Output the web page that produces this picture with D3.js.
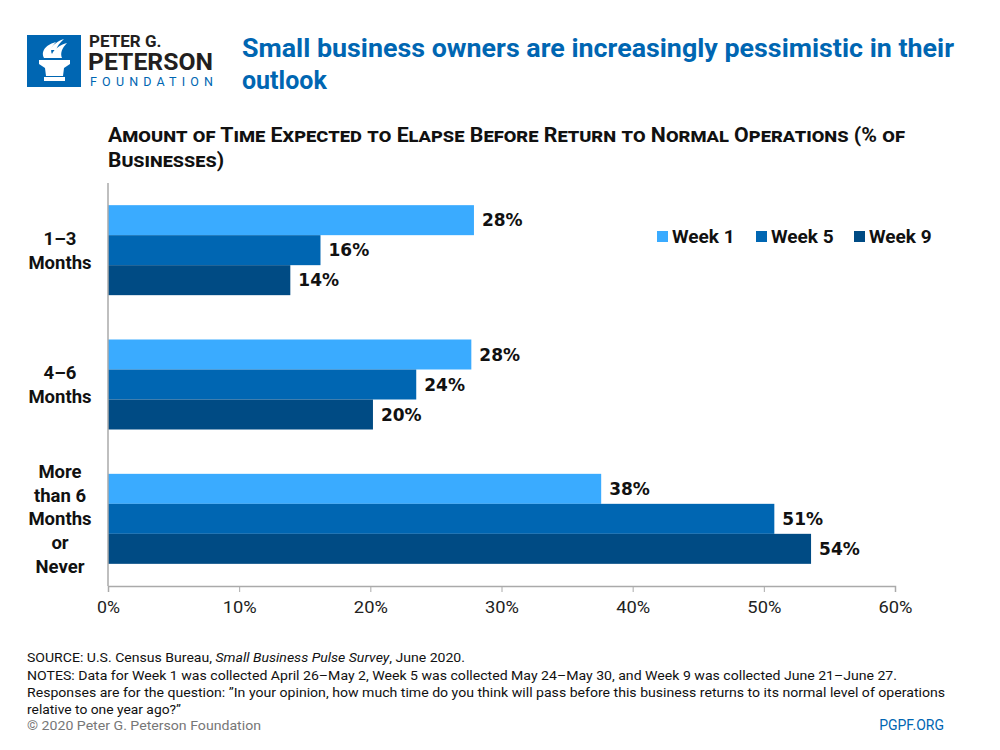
<!DOCTYPE html>
<html>
<head>
<meta charset="utf-8">
<script src="https://cdn.jsdelivr.net/npm/d3@7"></script>
<style>
  html, body { margin: 0; padding: 0; background: #fff; }
  svg { display: block; }
</style>
</head>
<body>
<svg id="chart" width="1000" height="750"></svg>
<script>
// ---- data ----
const categories = ["1–3 Months", "4–6 Months", "More than 6 Months or Never"];
const categoryLines = [["1–3", "Months"], ["4–6", "Months"], ["More", "than 6", "Months", "or", "Never"]];
const seriesNames = ["Week 1", "Week 5", "Week 9"];
const week1 = [27.9, 27.7, 37.6];
const week5 = [16.2, 23.5, 50.8];
const week9 = [13.9, 20.2, 53.6];
const week1Labels = ["28%", "28%", "38%"];
const week5Labels = ["16%", "24%", "51%"];
const week9Labels = ["14%", "20%", "54%"];
const xTicks = [0, 10, 20, 30, 40, 50, 60];
const colors = ["#3aabff", "#0066b2", "#004b84"];

const svg = d3.select("#chart");
const FONT = "Roboto, 'Liberation Sans', sans-serif";
const WIDE = "'DejaVu Sans', Verdana, sans-serif";

// ---- logo ----
const logo = svg.append("g");
logo.append("rect").attr("x", 27).attr("y", 35).attr("width", 54).attr("height", 52).attr("fill", "#0066b2");
logo.append("path").attr("fill", "#fff")
  .attr("d", "M39,60 L70,60 L70,64 L64,68 L63,76 L46,76 L45,68 L39,64 Z");
logo.append("rect").attr("x", 44).attr("y", 77).attr("width", 21).attr("height", 4).attr("fill", "#fff");
logo.append("path").attr("fill", "#fff")
  .attr("d", "M44,58 C40,50 48,44 56,42 C52,46 50,50 52,54 C54,49 60,45 67,43 C62,48 60,53 62,58 Z");
logo.append("path").attr("fill", "#fff")
  .attr("d", "M50,50 C52,45 58,41 64,39 C60,43 57,46 56,50 Z");
logo.append("text").attr("x", 89).attr("y", 46.5).text("PETER G.")
  .attr("font-family", FONT).attr("font-weight", 700).attr("font-size", 17).attr("fill", "#231f20");
logo.append("text").attr("x", 88).attr("y", 70).text("PETERSON")
  .attr("font-family", FONT).attr("font-weight", 700).attr("font-size", 24.5).attr("fill", "#231f20")
  .attr("textLength", 125).attr("lengthAdjust", "spacingAndGlyphs");
logo.append("text").attr("x", 90).attr("y", 86).text("FOUNDATION")
  .attr("font-family", FONT).attr("font-weight", 400).attr("font-size", 12.5).attr("fill", "#0066b2")
  .attr("textLength", 123).attr("lengthAdjust", "spacing");

// ---- title ----
const title = svg.append("text").attr("font-family", FONT).attr("font-weight", 700)
  .attr("font-size", 25).attr("fill", "#0066b2");
title.append("tspan").attr("x", 242).attr("y", 57).text("Small business owners are increasingly pessimistic in their")
  .attr("textLength", 712).attr("lengthAdjust", "spacingAndGlyphs");
title.append("tspan").attr("x", 242).attr("y", 89).text("outlook");

// ---- subtitle (small caps) ----
const sub = svg.append("text").attr("font-family", FONT).attr("font-weight", 700)
  .attr("font-size", 19.5).attr("fill", "#111").style("font-variant", "small-caps");
sub.append("tspan").attr("x", 108).attr("y", 142)
  .text("Amount of Time Expected to Elapse Before Return to Normal Operations (% of")
  .attr("textLength", 797).attr("lengthAdjust", "spacingAndGlyphs");
sub.append("tspan").attr("x", 108).attr("y", 167).text("Businesses)")
  .attr("textLength", 116).attr("lengthAdjust", "spacingAndGlyphs");

// ---- scales ----
const x = d3.scaleLinear().domain([0, 60]).range([108, 895]);
const y0 = d3.scaleBand().domain(categories).range([183, 586]).paddingInner(0.33).paddingOuter(0.165);
const y1 = d3.scaleBand().domain(seriesNames).range([0, y0.bandwidth()]);

const seriesValues = [week1, week5, week9];
const seriesLabels = [week1Labels, week5Labels, week9Labels];

// ---- bars ----
const rows = [];
categories.forEach((c, ci) => {
  seriesNames.forEach((s, si) => {
    rows.push({ cat: c, series: s, si, value: seriesValues[si][ci], label: seriesLabels[si][ci] });
  });
});

const barG = svg.append("g");
barG.selectAll("rect").data(rows).join("rect")
  .attr("x", x(0))
  .attr("y", d => y0(d.cat) + y1(d.series))
  .attr("width", d => x(d.value) - x(0))
  .attr("height", y1.bandwidth())
  .attr("fill", d => colors[d.si]);

barG.selectAll("text").data(rows).join("text")
  .attr("x", d => x(d.value) + 8)
  .attr("y", d => y0(d.cat) + y1(d.series) + y1.bandwidth() / 2)
  .attr("dy", "0.36em")
  .attr("font-family", WIDE).attr("font-weight", 700).attr("font-size", 17).attr("fill", "#111")
  .text(d => d.label);

// ---- axes ----
const xAxis = svg.append("g").attr("transform", "translate(0,586)")
  .call(d3.axisBottom(x).tickValues(xTicks).tickFormat(d => d + "%").tickSize(6).tickSizeOuter(6));
xAxis.select(".domain").attr("stroke", "#aaa").attr("stroke-width", 1.5);
xAxis.selectAll(".tick line").attr("stroke", "#aaa").attr("stroke-width", 1);
xAxis.selectAll(".tick text").attr("font-family", FONT).attr("font-size", 17).attr("fill", "#222")
  .attr("dy", "1.1em").attr("y", 8)
  .attr("textLength", 34).attr("lengthAdjust", "spacingAndGlyphs");
xAxis.selectAll(".tick text").filter(d => d === 0).attr("textLength", 23);

svg.append("line").attr("x1", x(0)).attr("x2", x(0)).attr("y1", 183).attr("y2", 586)
  .attr("stroke", "#aaa").attr("stroke-width", 1.5);

// category labels
categories.forEach((c, ci) => {
  const lines = categoryLines[ci];
  const cy = y0(c) + y0.bandwidth() / 2;
  const lh = 23.8;
  const t = svg.append("text").attr("font-family", FONT).attr("font-weight", 700)
    .attr("font-size", 18.5).attr("fill", "#111").attr("text-anchor", "middle");
  lines.forEach((ln, li) => {
    t.append("tspan").attr("x", 60)
      .attr("y", cy + (li - (lines.length - 1) / 2) * lh)
      .attr("dy", "0.36em").text(ln);
  });
});

// ---- legend ----
const legendX = [657, 756, 854];
const legend = svg.append("g");
seriesNames.forEach((s, i) => {
  legend.append("rect").attr("x", legendX[i]).attr("y", 231).attr("width", 11).attr("height", 11).attr("fill", colors[i]);
  legend.append("text").attr("x", legendX[i] + 15).attr("y", 236.5).attr("dy", "0.36em")
    .attr("font-family", FONT).attr("font-weight", 700).attr("font-size", 19).attr("fill", "#111").text(s);
});

// ---- footer ----
const foot = svg.append("g").attr("font-family", FONT).attr("font-size", 13.5).attr("fill", "#111");
const f1 = foot.append("text").attr("x", 27).attr("y", 662)
  .attr("textLength", 438).attr("lengthAdjust", "spacingAndGlyphs");
f1.append("tspan").text("SOURCE: U.S. Census Bureau, ");
f1.append("tspan").attr("font-style", "italic").text("Small Business Pulse Survey");
f1.append("tspan").text(", June 2020.");
foot.append("text").attr("x", 27).attr("y", 680)
  .text("NOTES: Data for Week 1 was collected April 26–May 2, Week 5 was collected May 24–May 30, and Week 9 was collected June 21–June 27.")
  .attr("textLength", 870).attr("lengthAdjust", "spacingAndGlyphs");
foot.append("text").attr("x", 27).attr("y", 697)
  .text("Responses are for the question: \u201DIn your opinion, how much time do you think will pass before this business returns to its normal level of operations")
  .attr("textLength", 918).attr("lengthAdjust", "spacingAndGlyphs");
foot.append("text").attr("x", 27).attr("y", 714).text("relative to one year ago?\u201D")
  .attr("textLength", 154).attr("lengthAdjust", "spacingAndGlyphs");
svg.append("text").attr("x", 27).attr("y", 730).attr("font-family", FONT).attr("font-size", 13.5)
  .attr("fill", "#777").text("© 2020 Peter G. Peterson Foundation")
  .attr("textLength", 234).attr("lengthAdjust", "spacingAndGlyphs");
svg.append("text").attr("x", 944).attr("y", 730).attr("text-anchor", "end").attr("font-family", FONT)
  .attr("font-size", 14).attr("fill", "#0066b2").text("PGPF.ORG");
</script>
</body>
</html>
